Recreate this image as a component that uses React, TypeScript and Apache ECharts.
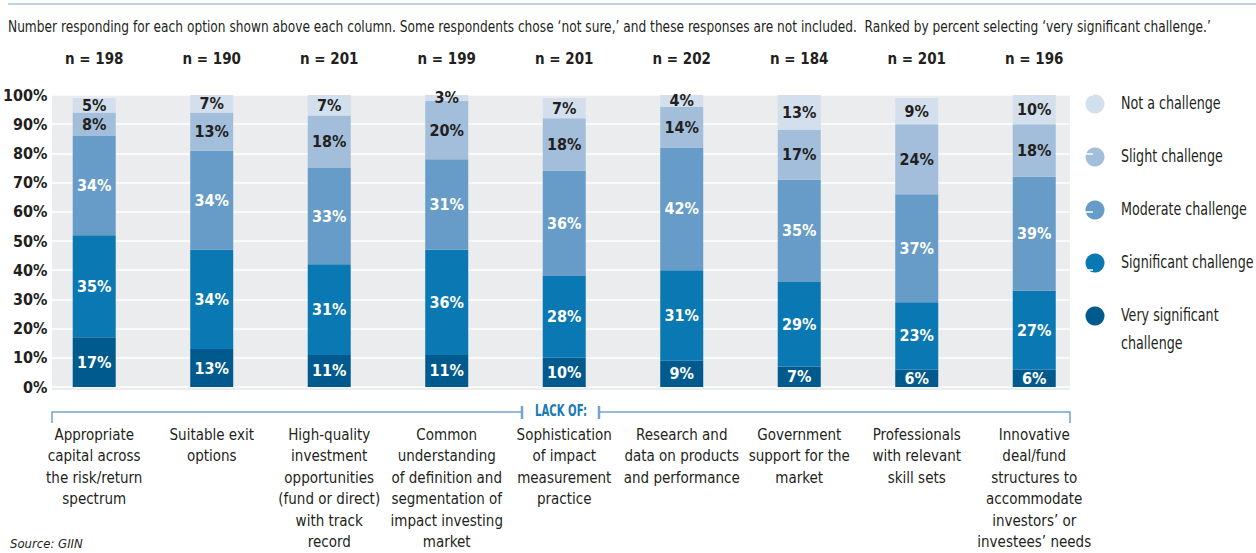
import React, { useEffect, useRef } from "react";
import * as echarts from "echarts";

const categories = [
  "Appropriate\ncapital across\nthe risk/return\nspectrum",
  "Suitable exit\noptions",
  "High-quality\ninvestment\nopportunities\n(fund or direct)\nwith track\nrecord",
  "Common\nunderstanding\nof definition and\nsegmentation of\nimpact investing\nmarket",
  "Sophistication\nof impact\nmeasurement\npractice",
  "Research and\ndata on products\nand performance",
  "Government\nsupport for the\nmarket",
  "Professionals\nwith relevant\nskill sets",
  "Innovative\ndeal/fund\nstructures to\naccommodate\ninvestors’ or\ninvestees’ needs",
];
const nValues = [198, 190, 201, 199, 201, 202, 184, 201, 196];

const verySignificant = [17, 13, 11, 11, 10, 9, 7, 6, 6];
const significant = [35, 34, 31, 36, 28, 31, 29, 23, 27];
const moderate = [34, 34, 33, 31, 36, 42, 35, 37, 39];
const slight = [8, 13, 18, 20, 18, 14, 17, 24, 18];
const notAChallenge = [5, 7, 7, 3, 7, 4, 13, 9, 10];

const seriesNames = [
  "Very significant challenge",
  "Significant challenge",
  "Moderate challenge",
  "Slight challenge",
  "Not a challenge",
];
const legendLabels = [
  "Very significant\nchallenge",
  "Significant challenge",
  "Moderate challenge",
  "Slight challenge",
  "Not a challenge",
];
const seriesData = [verySignificant, significant, moderate, slight, notAChallenge];
const seriesColors = ["#005a8d", "#0a78b2", "#669cc7", "#a3bedb", "#d3dfec"];
const labelColors = ["#ffffff", "#ffffff", "#ffffff", "#231f20", "#231f20"];

const titleText =
  "Number responding for each option shown above each column. Some respondents chose ‘not sure,’ and these responses are not included.  Ranked by percent selecting ‘very significant challenge.’";
const bracketLabel = "LACK OF:";
const sourceText = "Source: GIIN";

const FONT = "'Liberation Sans Narrow', 'DejaVu Sans Condensed', 'Roboto Condensed', sans-serif";

export default function App() {
  const ref = useRef<HTMLDivElement>(null);
  useEffect(() => {
    if (!ref.current) return;
    const chart = echarts.init(ref.current, null, { renderer: "svg" });

    const legendGraphics: any[] = [];
    const order = [4, 3, 2, 1, 0];
    order.forEach((si, k) => {
      const cy = 104 + 53 * k;
      const multi = legendLabels[si].includes("\n");
      legendGraphics.push({
        type: "circle",
        shape: { cx: 1095, cy, r: 9.5 },
        style: { fill: seriesColors[si] },
      });
      legendGraphics.push({
        type: "text",
        x: 1121,
        y: multi ? cy - 14 : cy,
        scaleX: 0.83,
        style: {
          text: legendLabels[si],
          fill: "#231f20",
          font: `17px ${FONT}`,
          textVerticalAlign: multi ? "top" : "middle",
          verticalAlign: multi ? "top" : "middle",
          lineHeight: 28,
        },
      });
    });

    const lineColor = "#73a3cf";

    chart.setOption({
      animation: false,
      textStyle: { fontFamily: FONT },
      grid: { left: 32, right: 163, top: 95, height: 295 },
      xAxis: [
        {
          type: "category",
          data: categories,
          position: "bottom",
          axisLine: { show: false },
          axisTick: { show: false },
          axisLabel: {
            margin: 37,
            interval: 0,
            fontSize: 15,
            lineHeight: 21.5,
            color: "#231f20",
            fontFamily: FONT,
            verticalAlign: "top",
          },
        },
        {
          type: "category",
          data: categories,
          position: "top",
          axisLine: { show: false },
          axisTick: { show: false },
          axisLabel: {
            margin: 29,
            interval: 0,
            fontSize: 15,
            fontWeight: "bold",
            color: "#231f20",
            fontFamily: FONT,
            formatter: (_v: string, i: number) => `n = ${nValues[i]}`,
          },
        },
      ],
      yAxis: {
        type: "value",
        min: 0,
        max: 100,
        interval: 10,
        axisLine: { show: false },
        axisTick: { show: false },
        splitLine: { show: true, lineStyle: { color: "#ffffff", width: 1.5 } },
        axisLabel: {
          margin: -12,
          fontSize: 16,
          fontWeight: "bold",
          color: "#231f20",
          fontFamily: FONT,
          formatter: "{value}%",
        },
      },
      series: seriesData.map((d, i) => ({
        name: seriesNames[i],
        type: "bar",
        stack: "total",
        barWidth: 43,
        data: d,
        itemStyle: { color: seriesColors[i] },
        label: {
          show: true,
          position: "inside",
          formatter: "{c}%",
          color: labelColors[i],
          fontSize: 16,
          fontWeight: "bold",
          fontFamily: FONT,
        },
      })),
      graphic: [
        {
          type: "rect",
          z: -10,
          shape: { x: 52, y: 95, width: 1018, height: 295 },
          style: { fill: "#ebeced" },
        },
        {
          type: "line",
          shape: { x1: 8, y1: 4, x2: 1256, y2: 4 },
          style: { stroke: "#a9c4de", lineWidth: 1.5 },
        },
        {
          type: "text",
          x: 8,
          y: 27,
          scaleX: 0.905,
          style: {
            text: titleText,
            fill: "#231f20",
            font: `15px ${FONT}`,
            verticalAlign: "middle",
            textVerticalAlign: "middle",
          },
        },
        {
          type: "polyline",
          shape: { points: [[52, 423], [52, 412], [522, 412]] },
          style: { stroke: lineColor, lineWidth: 1.5, fill: "none" },
        },
        {
          type: "polyline",
          shape: { points: [[599, 412], [1070, 412], [1070, 423]] },
          style: { stroke: lineColor, lineWidth: 1.5, fill: "none" },
        },
        {
          type: "line",
          shape: { x1: 522, y1: 406, x2: 522, y2: 419 },
          style: { stroke: lineColor, lineWidth: 2.5 },
        },
        {
          type: "line",
          shape: { x1: 599, y1: 406, x2: 599, y2: 419 },
          style: { stroke: lineColor, lineWidth: 2.5 },
        },
        {
          type: "text",
          x: 561,
          y: 411,
          scaleX: 0.75,
          style: {
            text: bracketLabel,
            fill: "#1b79b6",
            font: `bold 15px ${FONT}`,
            align: "center",
            textAlign: "center",
            verticalAlign: "middle",
            textVerticalAlign: "middle",
          },
        },
        {
          type: "text",
          x: 10,
          y: 537,
          style: {
            text: sourceText,
            fill: "#231f20",
            font: `italic 13px ${FONT}`,
            verticalAlign: "top",
            textVerticalAlign: "top",
          },
        },
        ...legendGraphics,
      ],
    });
    return () => chart.dispose();
  }, []);
  return (
    <div
      ref={ref}
      style={{ position: "fixed", left: 0, top: 0, width: 1256, height: 553, background: "#ffffff" }}
    />
  );
}
